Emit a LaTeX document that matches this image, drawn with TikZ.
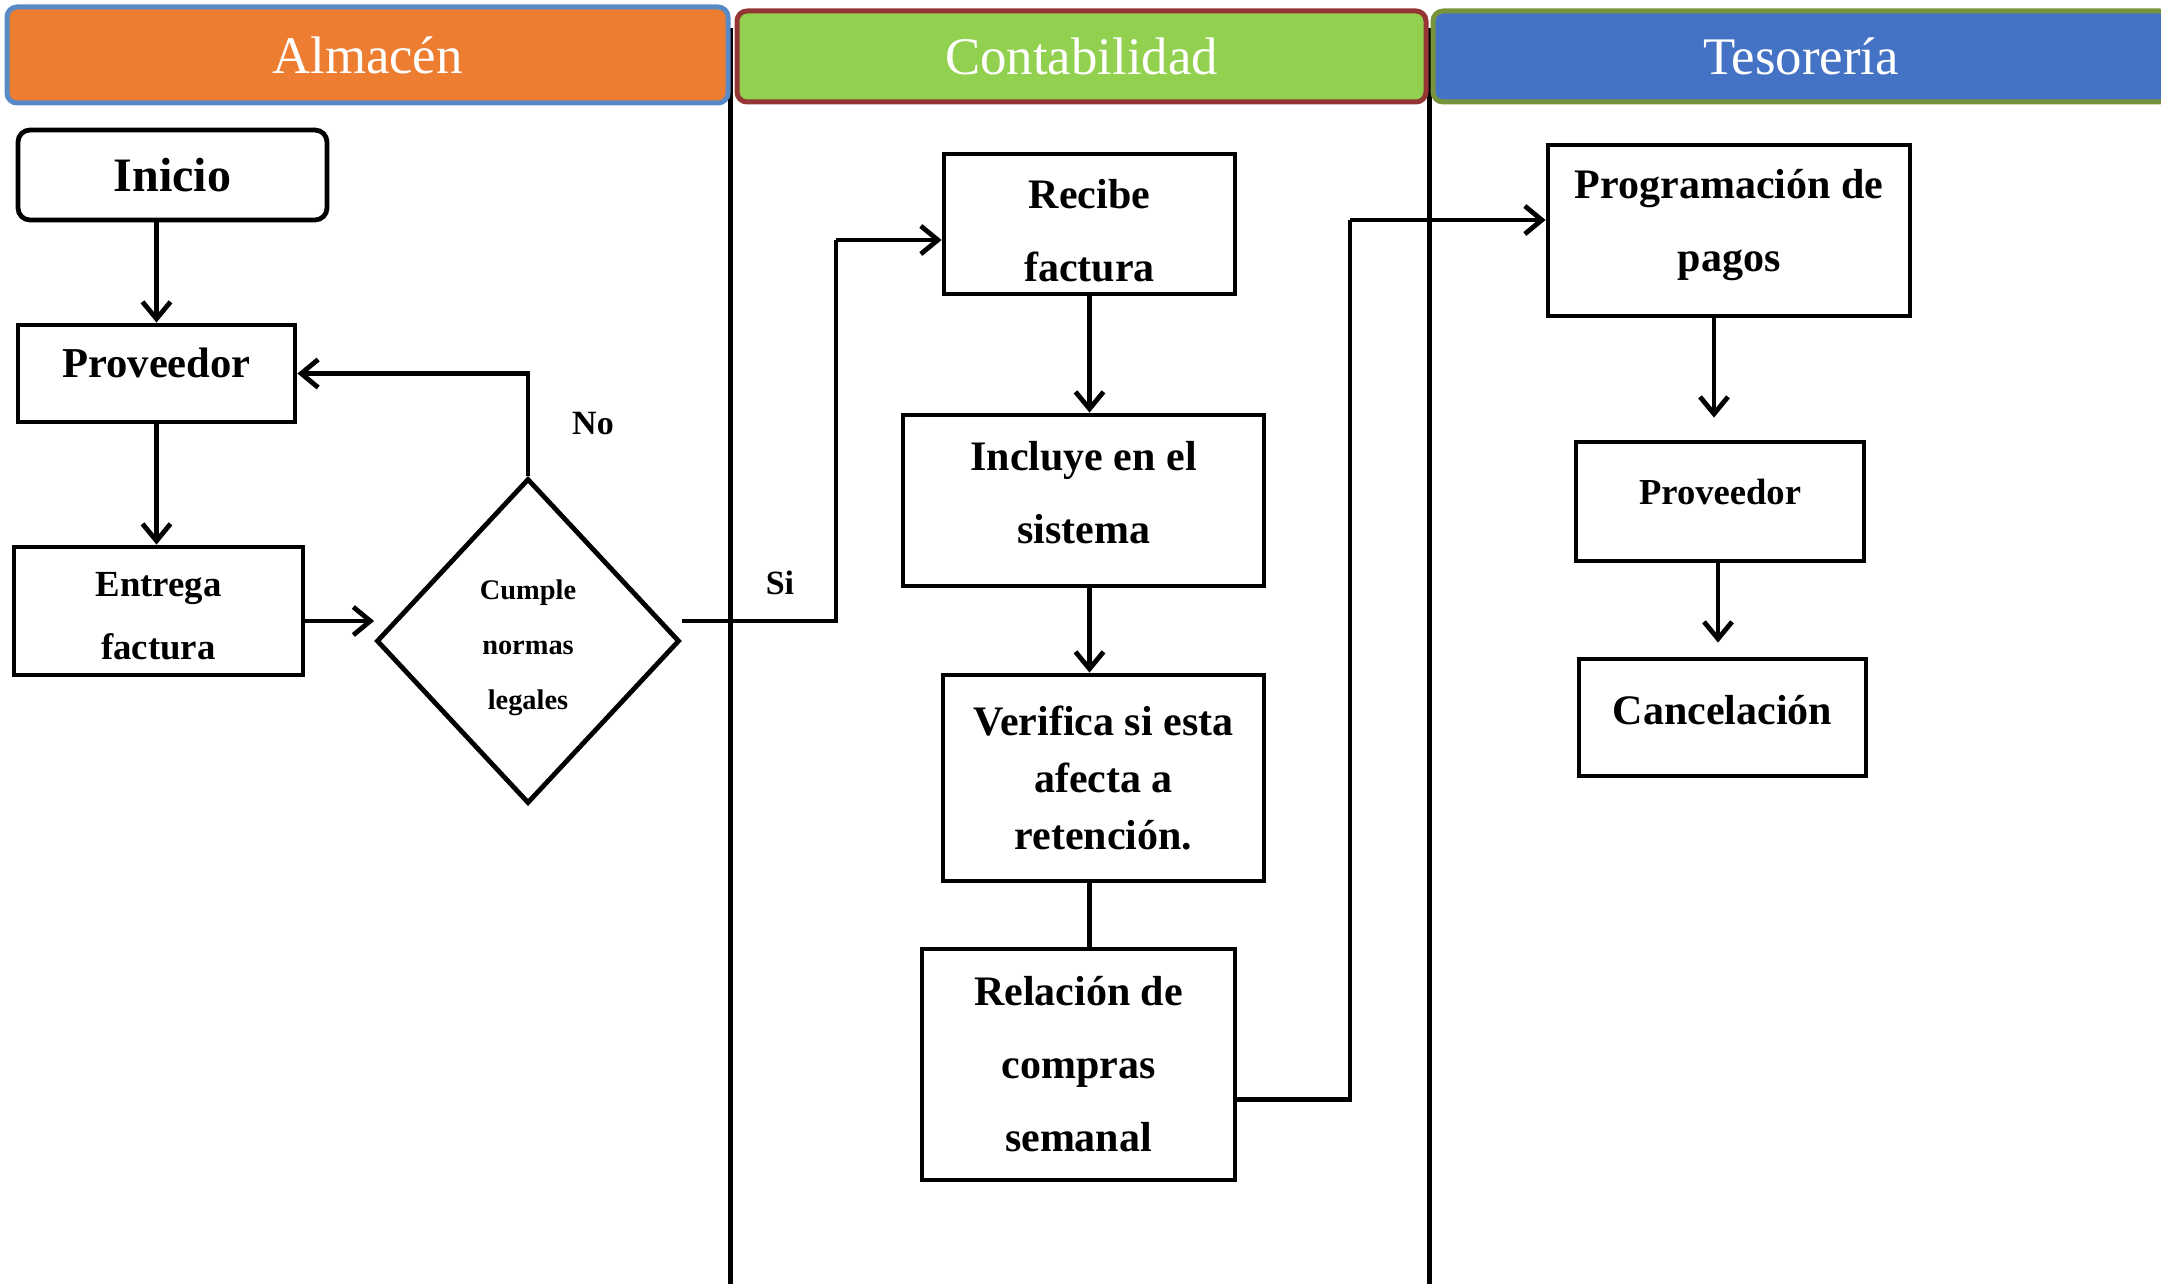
\documentclass[tikz,border=0pt]{standalone}
\usepackage{fontspec}
\setmainfont{Liberation Serif}
\usetikzlibrary{shapes.geometric,arrows.meta}
\definecolor{naranja}{HTML}{ED7D31}
\definecolor{verde}{HTML}{92D050}
\definecolor{azul}{HTML}{4472C4}
\definecolor{bordeazul}{HTML}{5A8AC6}
\definecolor{borderojo}{HTML}{943634}
\definecolor{bordeoliva}{HTML}{77933C}
\newcommand{\textocarril}{\fontsize{26.4}{30}\selectfont}
\newcommand{\textocaja}{\fontsize{21}{36.5}\selectfont\bfseries}
\newcommand{\textochico}{\fontsize{18.4}{31.7}\selectfont\bfseries}
\newcommand{\textorombo}{\fontsize{14.2}{27.5}\selectfont\bfseries}
% ajustes verticales del texto
\newcommand{\alto}[1]{\rule{0pt}{#1}}
\newcommand{\hondo}[1]{\rule[-#1]{0pt}{#1}}
\tikzset{
  carril/.style={rounded corners=5pt, line width=2.5pt, inner sep=0pt, text=white, font=\textocarril},
  caja/.style={draw, line width=2.4pt, inner sep=0pt, align=center, font=\textocaja},
  rombo/.style={draw, diamond, line width=2.4pt, inner sep=0pt, align=center, font=\textorombo},
  flecha/.style={line width=2.4pt, -{Straight Barb[length=8.5pt,width=14pt]}},
  linea/.style={line width=2.4pt},
  etiqueta/.style={inner sep=0pt, font=\fontsize{17}{20}\selectfont\bfseries}
}

\begin{document}
\begin{tikzpicture}[x=0.5pt, y=-0.5pt]
\useasboundingbox (0,0) rectangle (2161,1284);
\clip (0,0) rectangle (2161,1284);

% carriles
\draw[linea, line width=2.5pt] (730,28) -- (730,1284);
\draw[linea, line width=2.5pt] (1429,28) -- (1429,1284);
\node[carril, fill=naranja, draw=bordeazul, minimum width=360.5pt, minimum height=48pt] (almacen) at (367.5,55) {Almacén};
\node[carril, fill=verde, draw=borderojo, minimum width=344.5pt, minimum height=45.5pt] (contabilidad) at (1081.5,56.5) {Contabilidad};
\node[carril, fill=azul, draw=bordeoliva, minimum width=368pt, minimum height=45.5pt] (tesoreria) at (1801,56.5) {Tesorería};

% almacen
\node[caja, rounded corners=6pt, minimum width=154.5pt, minimum height=45pt, font=\fontsize{24}{28}\selectfont\bfseries] (inicio) at (172.5,175) {Inicio};
\node[caja, minimum width=138.5pt, minimum height=48.5pt, font=\fontsize{21.3}{26}\selectfont\bfseries] (proveedorA) at (156.5,373.5) {Proveedor\hondo{11pt}};
\node[caja, minimum width=144.5pt, minimum height=64pt, font=\textochico] (entrega) at (158.5,611) {\alto{17pt}Entrega\\factura};
\node[rombo, minimum width=151.5pt, minimum height=162.5pt] (cumple) at (528,641) {\alto{16.5pt}Cumple\\normas\\legales};

% contabilidad
\node[caja, minimum width=145.5pt, minimum height=70pt] (recibe) at (1089.5,224) {\alto{21pt}Recibe\\factura};
\node[caja, minimum width=180.5pt, minimum height=85.5pt] (incluye) at (1083.5,500.5) {Incluye en el\\sistema\hondo{8pt}};
\node[caja, minimum width=160.5pt, minimum height=103pt, font=\fontsize{21}{28.5}\selectfont\bfseries] (verifica) at (1103.5,778) {Verifica si esta\\afecta a\\retención.};
\node[caja, minimum width=156.5pt, minimum height=115.5pt] (relacion) at (1078.5,1064.5) {Relación de\\compras\\semanal};

% tesoreria
\node[caja, minimum width=181pt, minimum height=85.5pt] (programacion) at (1729,230.5) {Programación de\\pagos\hondo{10pt}};
\node[caja, minimum width=144pt, minimum height=59.5pt, font=\fontsize{18.3}{22}\selectfont\bfseries] (proveedorB) at (1720,501.5) {Proveedor\hondo{9.5pt}};
\node[caja, minimum width=143.5pt, minimum height=58.5pt] (cancelacion) at (1722.5,717.5) {Cancelación\hondo{8pt}};

% conectores
\draw[flecha] (inicio.south -| proveedorA) -- (proveedorA.north);
\draw[flecha] (proveedorA.south) -- (proveedorA.south |- entrega.north);
\draw[flecha] ([yshift=-5pt]entrega.east) -- ([yshift=-5pt]entrega.east -| cumple.west);
\draw[flecha] (cumple.north) |- (proveedorA.east);
\node[etiqueta] (no) at (593,424) {No};
\coordinate (codoSi) at (836,240);
\draw[linea] ([yshift=10pt]cumple.east) -| (codoSi);
\draw[flecha] (codoSi) -- (codoSi -| recibe.west);
\node[etiqueta] (si) at (780,583) {Si};
\draw[flecha] (recibe.south) -- (recibe.south |- incluye.north);
\draw[flecha] (recibe.south |- incluye.south) -- (recibe.south |- verifica.north);
\draw[linea] (recibe.south |- verifica.south) -- (recibe.south |- relacion.north);
\coordinate (codoProg) at (1350,220);
\draw[linea] ([yshift=-17.5pt]relacion.east) -| (codoProg);
\draw[flecha] (codoProg) -- (codoProg -| programacion.west);
\draw[flecha, shorten >=11pt] ([xshift=-7.5pt]programacion.south) -- ([xshift=-7.5pt]programacion.south |- proveedorB.north);
\draw[flecha, shorten >=7pt] ([xshift=-1pt]proveedorB.south) -- ([xshift=-1pt]proveedorB.south |- cancelacion.north);
\end{tikzpicture}
\end{document}
